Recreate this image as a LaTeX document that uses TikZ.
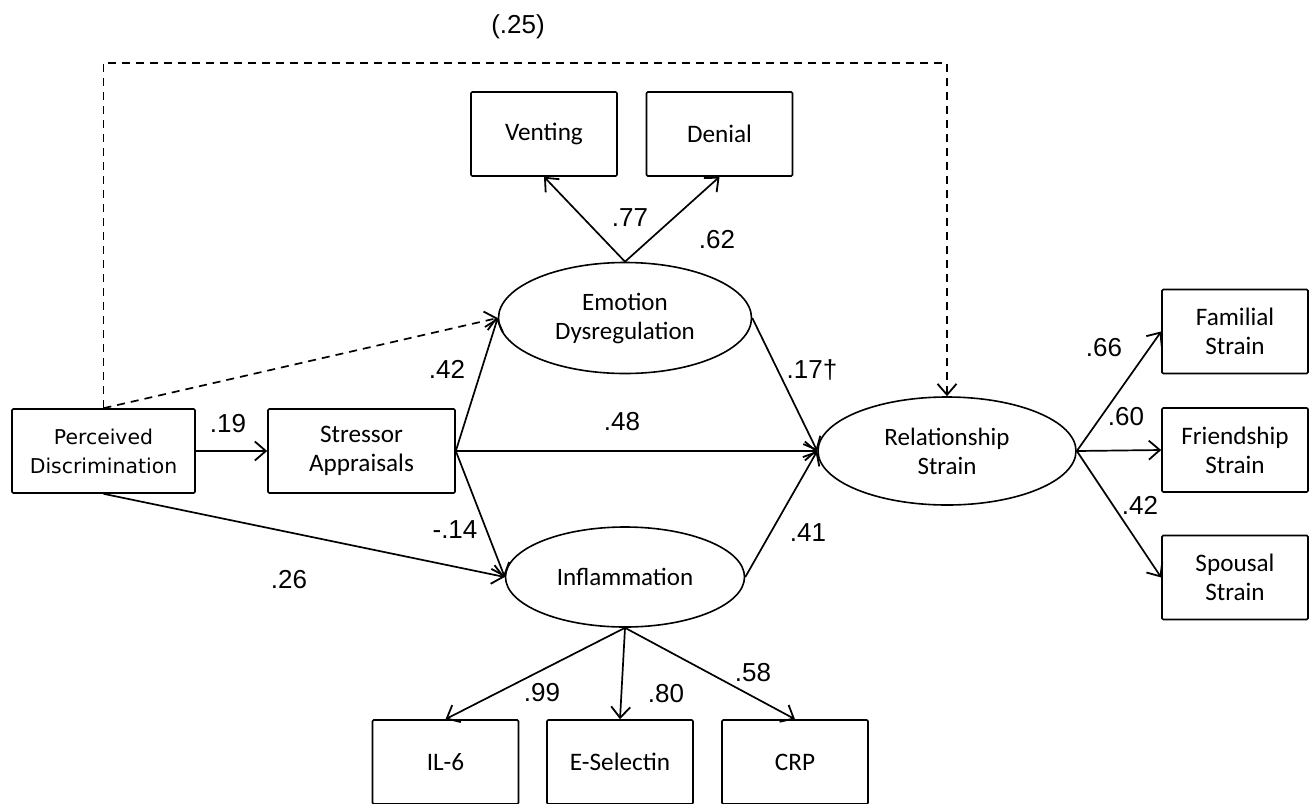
\documentclass[tikz,border=0pt]{standalone}
\usepackage{fontspec}
\setmainfont{Carlito}
\newfontfamily\numfont{Liberation Sans}
\newfontfamily\widefont{DejaVu Sans}
\usetikzlibrary{arrows.meta,shapes.geometric}
\begin{document}
\begin{tikzpicture}[x=0.5pt,y=-0.5pt,
  box/.style={draw, line width=0.8pt, rounded corners=0.6pt, minimum width=73pt, minimum height=42pt, inner sep=1pt, align=center, font=\fontsize{12.6}{14.5}\selectfont},
  latent/.style={draw, ellipse, line width=0.8pt, inner sep=0pt, align=center, font=\fontsize{12.5}{14.5}\selectfont},
  coef/.style={inner sep=0pt, font=\numfont\fontsize{13}{15}\selectfont},
  arr/.style={line width=0.85pt, -{Straight Barb[length=5.5pt,width=9.5pt,line width=0.9pt]}},
  dashline/.style={arr, dash pattern=on 4pt off 3pt}]
\useasboundingbox (0,0) rectangle (1309,803);
% observed and latent variables
\node[box, minimum width=91.5pt, font=\widefont\fontsize{10.2}{14.5}\selectfont] (perc) at (103.5,451){Perceived\\Discrimination};
\node[box, minimum width=93.5pt] (stress) at (361.5,451){Stressor\\Appraisals};
\node[latent, minimum width=126.5pt, minimum height=55.5pt] (emo) at (625,318){Emotion\\Dysregulation};
\node[latent, minimum width=119.5pt, minimum height=50pt] (infl) at (625,577){Inflammation};
\node[latent, minimum width=129pt, minimum height=54pt] (rel) at (947,451){Relationship\\Strain};
\node[box] (vent) at (544,134){Venting};
\node[box] (deny) at (719.5,134){Denial};
\node[box] (fam) at (1235,331.5){Familial\\Strain};
\node[box] (friend) at (1235,450){Friendship\\Strain};
\node[box] (spouse) at (1235,577.5){Spousal\\Strain};
\node[box] (il6) at (445.5,762){IL-6};
\node[box] (esel) at (620,762){E-Selectin};
\node[box] (crp) at (795,762){CRP};
% paths
\coordinate (topline) at (520,63);
\draw[dashline] (perc.north) |- (topline) -| (rel.north);
\draw[dashline] (perc.north) -- (emo.west);
\draw[arr] (perc.east) -- (stress.west);
\draw[arr] (perc.south) -- (infl.west);
\draw[arr] (stress.east) -- (emo.west);
\draw[arr] (stress.east) -- (rel.west);
\draw[arr] (stress.east) -- (infl.west);
\draw[arr] (emo.east) -- (rel.west);
\draw[arr] (infl.east) -- (rel.west);
\draw[arr] (emo.north) -- (vent.south);
\draw[arr] (emo.north) -- (deny.south);
\draw[arr] (rel.east) -- (fam.west);
\draw[arr] (rel.east) -- (friend.west);
\draw[arr] (rel.east) -- (spouse.west);
\draw[arr] (infl.south) -- (il6.north);
\draw[arr] (infl.south) -- (esel.north);
\draw[arr] (infl.south) -- (crp.north);
% coefficients
\node[coef] (c25) at (518,27){(.25)};
\node[coef] (c19) at (228,424){.19};
\node[coef] (c26) at (289,580){.26};
\node[coef] (c42a) at (447,369){.42};
\node[coef] (c14) at (455,530){-.14};
\node[coef] (c48) at (622,422){.48};
\node[coef] (c17) at (812,370){.17\dag};
\node[coef] (c41) at (808,533){.41};
\node[coef] (c77) at (630,218){.77};
\node[coef] (c62) at (717,240){.62};
\node[coef] (c66) at (1104,348){.66};
\node[coef] (c60) at (1126,417){.60};
\node[coef] (c42b) at (1140,505){.42};
\node[coef] (c99) at (542,693){.99};
\node[coef] (c80) at (666,694){.80};
\node[coef] (c58) at (753,673){.58};
\end{tikzpicture}
\end{document}
